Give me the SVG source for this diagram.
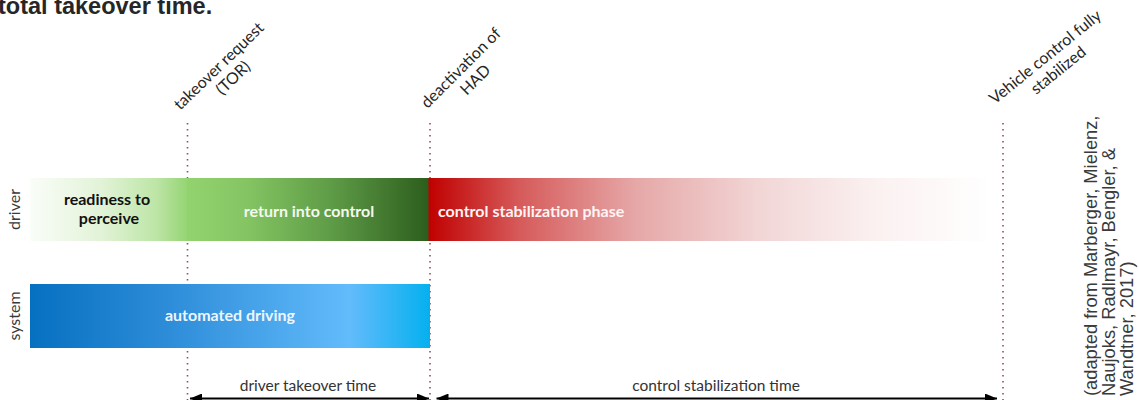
<svg xmlns="http://www.w3.org/2000/svg" width="1139" height="400" viewBox="0 0 1139 400">
  <style>
    .title { font-family: "Liberation Sans", Arial, sans-serif; font-weight: bold; font-size: 23.5px; fill: #262626; }
    .cal { font-family: Lato, "Open Sans", sans-serif; }
    .lane { font-size: 16px; fill: #3a3a3a; }
    .event { font-size: 16px; fill: #262626; }
    .barlabel { font-size: 16px; font-weight: bold; }
    .span { font-size: 15.5px; fill: #333; }
    .cite { font-family: "Liberation Sans", Arial, sans-serif; font-size: 18.3px; fill: #3a3a3a; }
    .dots { stroke: #9a4d5a; stroke-width: 1.6; stroke-dasharray: 1.6 4.4; fill: none; }
    .dim { stroke: #000; stroke-width: 2; fill: none; }
  </style>
  <defs>
    <linearGradient id="gReady" gradientUnits="userSpaceOnUse" x1="30" y1="0" x2="188" y2="0">
      <stop offset="0" stop-color="#fafdf8"/>
      <stop offset="0.45" stop-color="#e2f3d8"/>
      <stop offset="0.8" stop-color="#bde5a6"/>
      <stop offset="1" stop-color="#94d472"/>
    </linearGradient>
    <linearGradient id="gReturn" gradientUnits="userSpaceOnUse" x1="187" y1="0" x2="429" y2="0">
      <stop offset="0" stop-color="#93d36f"/>
      <stop offset="0.25" stop-color="#84c462"/>
      <stop offset="0.6" stop-color="#5e9b46"/>
      <stop offset="1" stop-color="#2c5d1d"/>
    </linearGradient>
    <linearGradient id="gStab" gradientUnits="userSpaceOnUse" x1="429" y1="0" x2="990" y2="0">
      <stop offset="0" stop-color="#c00000"/>
      <stop offset="0.16" stop-color="#d65a5a"/>
      <stop offset="0.37" stop-color="#e6a8a8"/>
      <stop offset="0.59" stop-color="#f2d6d6"/>
      <stop offset="0.8" stop-color="#fbf1f1"/>
      <stop offset="1" stop-color="#ffffff"/>
    </linearGradient>
    <linearGradient id="gAuto" gradientUnits="userSpaceOnUse" x1="30" y1="0" x2="430" y2="0">
      <stop offset="0" stop-color="#0670c0"/>
      <stop offset="0.35" stop-color="#2e8dd9"/>
      <stop offset="0.8" stop-color="#62bbfb"/>
      <stop offset="1" stop-color="#05b0ef"/>
    </linearGradient>
    <marker id="head" viewBox="0 0 12 10" refX="12" refY="5" markerWidth="12" markerHeight="10" markerUnits="userSpaceOnUse" orient="auto-start-reverse">
      <path d="M0,0 L12,5 L0,10 Z" fill="#000"/>
    </marker>
  </defs>

  <!-- heading, partly cut by the top edge -->
  <text class="title" x="-2" y="14">total takeover time.</text>

  <!-- event markers -->
  <g id="markers">
    <line class="dots" x1="187.5" y1="123" x2="187.5" y2="400"/>
    <line class="dots" x1="430" y1="123" x2="430" y2="400"/>
    <line class="dots" x1="1003" y1="123" x2="1003" y2="400"/>
  </g>

  <g id="ev-tor">
    <text class="cal event" text-anchor="middle" transform="translate(224,68.5) rotate(-44)">
      <tspan x="0" y="0">takeover request</tspan>
      <tspan x="0" y="18.5">(TOR)</tspan>
    </text>
  </g>
  <g id="ev-had">
    <text class="cal event" text-anchor="middle" transform="translate(466,70.5) rotate(-45)">
      <tspan x="0" y="0">deactivation of</tspan>
      <tspan x="0" y="18.5">HAD</tspan>
    </text>
  </g>
  <g id="ev-stable">
    <text class="cal event" text-anchor="middle" transform="translate(1050,60) rotate(-39)">
      <tspan x="0" y="0">Vehicle control fully</tspan>
      <tspan x="0" y="18.5">stabilized</tspan>
    </text>
  </g>

  <!-- lane captions -->
  <text class="cal lane" text-anchor="middle" transform="translate(20,209.5) rotate(-90)">driver</text>
  <text class="cal lane" text-anchor="middle" transform="translate(20,316) rotate(-90)">system</text>

  <!-- driver lane -->
  <g id="readiness">
    <rect x="30" y="178" width="158" height="63" fill="url(#gReady)"/>
    <text class="cal barlabel" text-anchor="middle" fill="#111">
      <tspan x="109" y="205">readiness to</tspan>
      <tspan x="109" y="224">perceive</tspan>
    </text>
  </g>
  <g id="return">
    <rect x="187" y="178" width="242" height="63" fill="url(#gReturn)"/>
    <text class="cal barlabel" x="309" y="217" text-anchor="middle" fill="#f4f9f0">return into control</text>
  </g>
  <g id="stabilization">
    <rect x="428.5" y="178" width="562" height="63" fill="url(#gStab)"/>
    <text class="cal barlabel" x="438" y="217" fill="#fff4f4">control stabilization phase</text>
  </g>

  <!-- system lane -->
  <g id="automated">
    <rect x="30" y="284" width="400" height="64" fill="url(#gAuto)"/>
    <text class="cal barlabel" x="230" y="321" text-anchor="middle" fill="#eef6fd">automated driving</text>
  </g>

  <!-- durations -->
  <g id="connectors">
    <line class="dim" x1="190" y1="398.5" x2="429" y2="398.5" marker-start="url(#head)" marker-end="url(#head)"/>
    <line class="dim" x1="436.5" y1="398.5" x2="997" y2="398.5" marker-start="url(#head)" marker-end="url(#head)"/>
  </g>
  <text class="cal span" x="308" y="391" text-anchor="middle">driver takeover time</text>
  <text class="cal span" x="716" y="391" text-anchor="middle">control stabilization time</text>

  <!-- source note -->
  <text class="cite" transform="translate(1097,396) rotate(-90)">
    <tspan x="0" y="0">(adapted from Marberger, Mielenz,</tspan>
    <tspan x="0" y="18">Naujoks, Radlmayr, Bengler, &amp;</tspan>
    <tspan x="0" y="36">Wandtner, 2017)</tspan>
  </text>
</svg>
